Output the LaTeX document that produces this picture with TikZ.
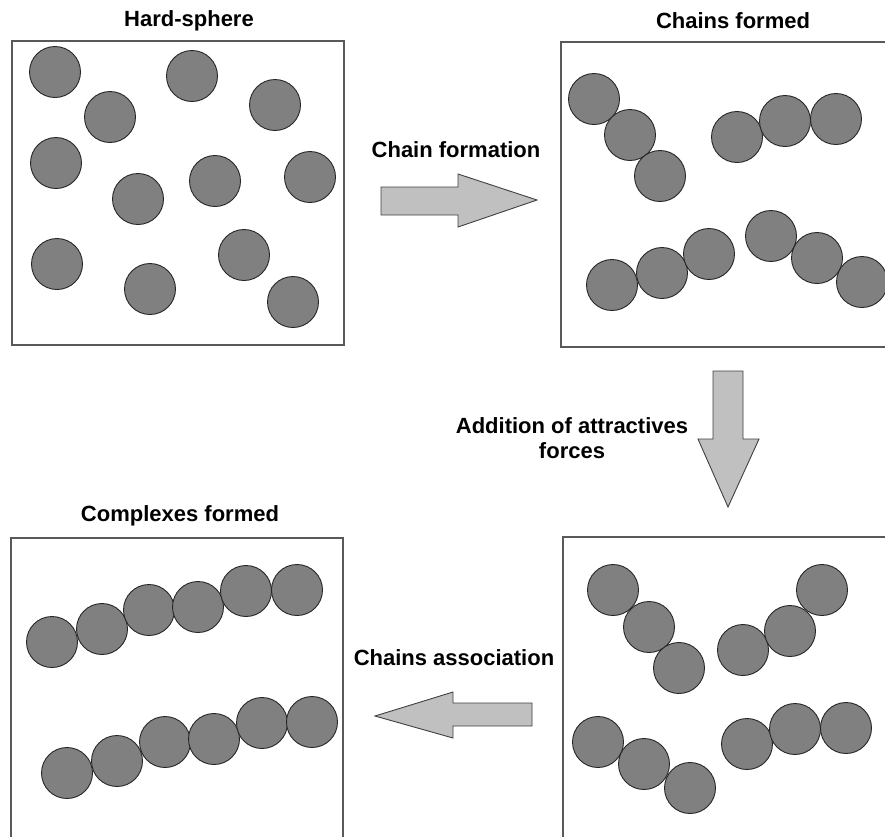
\documentclass[tikz,border=0pt]{standalone}
\usepackage{fontspec}
\setmainfont{Liberation Sans}
\begin{document}
\begin{tikzpicture}[x=1pt,y=-1pt,
  ball/.style={circle,draw=black!85,line width=0.9pt,fill=ballgray,minimum size=51pt,inner sep=0pt},
  frame/.style={draw=black!65,line width=1.2pt},
  bigarrow/.style={draw=black!75,line width=0.9pt,fill=arrowgray,line join=miter},
  lab/.style={font=\fontsize{22}{25}\selectfont\bfseries,align=center,inner sep=0pt}]
\definecolor{ballgray}{HTML}{808080}
\definecolor{arrowgray}{HTML}{C0C0C0}
\path[use as bounding box] (0,0) rectangle (885,836);
\clip (0,0) rectangle (885,836);
% frames
\draw[frame] (12,41) rectangle (344,345);
\draw[frame] (561,42) rectangle (900,347);
\draw[frame] (563,537) rectangle (900,850);
\draw[frame] (11,538) rectangle (343,850);
% titles
\node[lab] (t1) at (189,21) {Hard-sphere};
\node[lab] (t2) at (733,21) {Chains formed};
\node[lab] (t4) at (180,516) {Complexes formed};
% box 1
\foreach \n/\x/\y in {a1/55/72,a2/110/117,a3/192/76,a4/275/105,a5/56/163,a6/138/199,a7/215/181,a8/310/177,a9/57/264,a10/150/289,a11/244/255,a12/293/302}
  \node[ball] (\n) at (\x,\y) {};
% box 2
\foreach \n/\x/\y in {b1/594/99,b2/630/135,b3/660/176,b4/737/137,b5/785/121,b6/836/119,b7/612/285,b8/662/273,b9/709/254,b10/771/236,b11/817/258,b12/862/282}
  \node[ball] (\n) at (\x,\y) {};
% box 3
\foreach \n/\x/\y in {c1/613/590,c2/649/627,c3/679/668,c4/743/650,c5/790/631,c6/822/590,c7/598/742,c8/644/764,c9/690/788,c10/747/744,c11/795/729,c12/846/728}
  \node[ball] (\n) at (\x,\y) {};
% box 4
\foreach \n/\x/\y in {d1/52/642,d2/102/629,d3/149/610,d4/198/607,d5/246/591,d6/297/590,d7/67/773,d8/117/761,d9/165/742,d10/214/739,d11/262/723,d12/312/722}
  \node[ball] (\n) at (\x,\y) {};
% arrows
\draw[bigarrow] (381,187) -- (458,187) -- (458,174) -- (537,200) -- (458,227) -- (458,215) -- (381,215) -- cycle;
\node[lab] (l1) at (456,150) {Chain formation};
\draw[bigarrow] (713,371) -- (743,371) -- (743,439) -- (759,439) -- (728,507) -- (698,439) -- (713,439) -- cycle;
\node[lab] (l2) at (572,438) {Addition of attractives\\forces};
\draw[bigarrow] (532,703) -- (453,703) -- (453,692) -- (375,716) -- (453,738) -- (453,726) -- (532,726) -- cycle;
\node[lab] (l3) at (454,658) {Chains association};
\end{tikzpicture}
\end{document}
